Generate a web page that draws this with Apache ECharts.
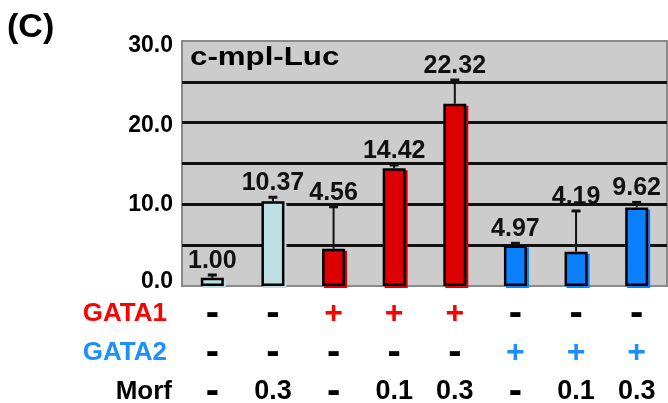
<!DOCTYPE html>
<html><head><meta charset="utf-8">
<script src="https://cdn.jsdelivr.net/npm/echarts@6/dist/echarts.min.js"></script>
<style>html,body{margin:0;padding:0;background:#fff}#c{width:668px;height:403px}</style>
</head><body><div id="c"></div>
<script>
const categories = ['c1','c2','c3','c4','c5','c6','c7','c8'];
const values = [1.00, 10.37, 4.56, 14.42, 22.32, 4.97, 4.19, 9.62];
const errors = [0.35, 0.5, 5.14, 0.4, 2.9, 0.26, 5.0, 0.62];
const barColors = ['#bcdfe3','#bcdfe3','#dd0000','#dd0000','#dd0000','#0a80ff','#0a80ff','#0a80ff'];
const gata1 = ['-','-','+','+','+','-','-','-'];
const gata2 = ['-','-','-','-','-','+','+','+'];
const morf = ['-','0.3','-','0.1','0.3','-','0.1','0.3'];
const yMin = 0, yMax = 30, yStep = 5, yLabelStep = 10;
const panelLabel = '(C)';
const plotTitle = 'c-mpl-Luc';

const FF = '"Liberation Sans", Arial, Helvetica, sans-serif';
const RED = '#ff0000', BLUE = '#1e8fff';

function rowAxis(name, color, row, offset, nameGap) {
  return {
    type: 'category', data: categories, gridIndex: 0, position: 'bottom', offset: offset,
    axisLine: {show: false}, axisTick: {show: false}, splitLine: {show: false},
    axisLabel: {
      interval: 0, margin: 0, verticalAlign: 'middle',
      formatter: function (v, i) {
        const s = row[i];
        if (s === '+') return '{p|+}';
        if (s === '-') return '{m|-}';
        return '{n|' + s + '}';
      },
      rich: {
        p: {color: color, fontSize: 32, fontWeight: 'bold', fontFamily: FF},
        m: {color: '#000', fontSize: 40, fontWeight: 'bold', fontFamily: FF},
        n: {color: '#000', fontSize: 27, fontWeight: 'bold', fontFamily: FF}
      }
    },
    name: name, nameLocation: 'start', nameGap: nameGap,
    nameTextStyle: {color: color, fontSize: 26, fontWeight: 'bold', fontFamily: FF, align: 'right', verticalAlign: 'middle'}
  };
}

const yLabelStyle = {color: '#000', fontSize: 23, fontWeight: 'bold', fontFamily: FF};
const chart = echarts.init(document.getElementById('c'), null, {renderer: 'canvas'});
chart.setOption({
  animation: false,
  backgroundColor: '#fff',
  grid: {left: 182, right: 1, top: 41, bottom: 117, outerBoundsMode: 'none', containLabel: false, show: true, backgroundColor: '#cccccc', borderColor: '#8a8a8a', borderWidth: 2},
  graphic: [
    {type: 'text', x: 7, y: 11, style: {text: panelLabel, font: 'bold 34px ' + FF, fill: '#000', verticalAlign: 'top'}},
    {type: 'text', x: 190, y: 46, scaleX: 1.25, style: {text: plotTitle, font: 'bold 25px ' + FF, fill: '#000', verticalAlign: 'top'}, z: 100}
  ],
  xAxis: [
    {type: 'category', data: categories, gridIndex: 0, axisLine: {lineStyle: {color: '#8a8a8a', width: 2}}, axisTick: {show: false}, axisLabel: {show: false}},
    rowAxis('GATA1', RED, gata1, 28, 15),
    rowAxis('GATA2', BLUE, gata2, 67, 15),
    rowAxis('Morf', '#000', morf, 106, 10)
  ],
  yAxis: {
    type: 'value', min: yMin, max: yMax, interval: yStep,
    axisLine: {show: false}, axisTick: {show: false},
    axisLabel: {margin: 9,
      formatter: function (v) {
        if (v % yLabelStep !== 0) return '';
        const key = v === 30 ? 'a' : v === 20 ? 'b' : v === 0 ? 'd' : 'c';
        return '{' + key + '|' + v.toFixed(1) + '}';
      },
      rich: {
        a: Object.assign({padding: [9, 0, 0, 0]}, yLabelStyle),
        b: Object.assign({padding: [6, 0, 0, 0]}, yLabelStyle),
        c: Object.assign({}, yLabelStyle),
        d: Object.assign({padding: [0, 0, 9, 0]}, yLabelStyle)
      }},
    splitLine: {show: true, showMinLine: false, showMaxLine: false, lineStyle: {color: '#111', width: 3}}
  },
  series: [
    {
      type: 'bar', barWidth: 23, xAxisIndex: 0,
      data: values.map(function (v, i) { return {value: v, itemStyle: {color: barColors[i], shadowColor: barColors[i], shadowOffsetX: 2, shadowOffsetY: 2, shadowBlur: 0}}; }),
      itemStyle: {borderColor: '#000', borderWidth: 2.5},
      z: 3
    },
    {
      type: 'custom', xAxisIndex: 0, z: 4,
      data: values.map(function (v, i) { return [i, v, errors[i]]; }),
      renderItem: function (params, api) {
        const i = api.value(0), v = api.value(1), e = api.value(2);
        const p0 = api.coord([i, v]), p1 = api.coord([i, v + e]);
        return {type: 'group', children: [
          {type: 'line', shape: {x1: p0[0], y1: p0[1], x2: p1[0], y2: p1[1]}, style: {stroke: '#111', lineWidth: 2}},
          {type: 'line', shape: {x1: p1[0] - 4.5, y1: p1[1], x2: p1[0] + 4.5, y2: p1[1]}, style: {stroke: '#111', lineWidth: 3}},
          {type: 'text', x: p1[0], y: p1[1] - 14, style: {text: v.toFixed(2), font: 'bold 25px ' + FF, fill: '#111', align: 'center', verticalAlign: 'middle'}}
        ]};
      }
    }
  ]
});
</script></body></html>
